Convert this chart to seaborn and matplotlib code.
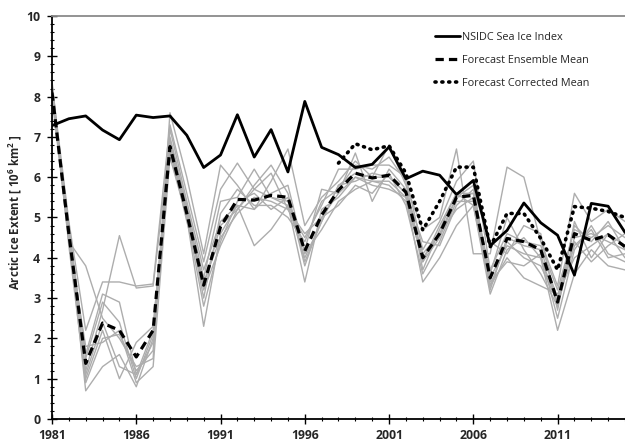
import numpy as np
import pandas as pd
import matplotlib
matplotlib.use("Agg")
import matplotlib.pyplot as plt
from matplotlib.ticker import MultipleLocator, FixedLocator
import seaborn as sns

years = list(range(1981, 2016))

# NSIDC September sea ice extent (10^6 km^2)
nsidc = [7.28, 7.45, 7.52, 7.17, 6.93, 7.54, 7.48, 7.52, 7.04, 6.24,
         6.55, 7.55, 6.50, 7.18, 6.13, 7.88, 6.74, 6.56, 6.24, 6.32,
         6.75, 5.96, 6.15, 6.05, 5.57, 5.92, 4.30, 4.68, 5.36, 4.87,
         4.56, 3.57, 5.35, 5.28, 4.63]

# Forecast ensemble mean
ens_mean = [8.10, 4.60, 1.38, 2.38, 2.20, 1.54, 2.20, 6.76, 5.10, 3.32,
            4.77, 5.45, 5.43, 5.55, 5.50, 4.17, 5.06, 5.68, 6.10, 5.98,
            6.05, 5.63, 4.00, 4.60, 5.50, 5.55, 3.50, 4.48, 4.40, 4.20,
            2.90, 4.60, 4.43, 4.57, 4.28]

# Bias-corrected forecast mean (available from 1998)
corr_years = list(range(1998, 2016))
corr_mean = [6.35, 6.83, 6.68, 6.78, 6.10, 4.69, 5.40, 6.25, 6.25, 4.27,
             5.10, 5.10, 4.48, 3.70, 5.27, 5.23, 5.15, 5.00]

# Individual ensemble members
member_1 = [8.4, 4.4, 3.8, 2.5, 2.0, 1.3, 1.5, 7.6, 6.0, 4.1, 6.3, 5.8, 5.2, 5.9, 6.7, 4.8, 5.5, 5.9,
            6.4, 6.0, 6.8, 5.8, 4.7, 5.0, 6.7, 4.1, 4.1, 6.25, 6.0, 4.4, 3.3, 5.6, 4.9, 5.2, 4.9]
member_2 = [8.3, 4.9, 2.2, 3.4, 3.4, 3.3, 3.35, 7.3, 5.6, 3.9, 5.7, 6.35, 5.7, 6.1, 5.2, 4.5, 5.3, 6.2,
            6.2, 6.3, 6.3, 6.0, 4.2, 4.9, 5.9, 6.4, 3.7, 4.6, 4.4, 4.3, 3.2, 4.7, 4.5, 4.8, 4.5]
member_3 = [8.2, 4.7, 1.6, 3.1, 2.9, 1.1, 2.2, 7.0, 5.3, 3.5, 5.4, 5.5, 6.2, 5.5, 5.4, 4.2, 5.7, 5.6,
            6.6, 5.4, 6.2, 5.7, 3.9, 4.5, 5.5, 5.8, 3.3, 4.4, 4.0, 3.8, 2.9, 4.3, 4.7, 4.0, 4.1]
member_4 = [8.1, 4.5, 1.2, 2.7, 4.55, 3.25, 3.3, 6.9, 5.1, 3.2, 4.3, 5.2, 5.8, 6.3, 5.6, 3.9, 4.9, 5.8,
            5.9, 6.1, 6.0, 5.6, 4.4, 4.3, 5.3, 5.7, 4.4, 4.1, 4.8, 4.6, 2.7, 4.9, 4.0, 4.6, 4.3]
member_5 = [8.0, 4.6, 0.7, 1.3, 1.6, 0.8, 2.0, 6.8, 5.0, 2.3, 4.6, 5.3, 4.3, 4.7, 5.3, 3.4, 5.2, 5.5,
            6.0, 5.9, 5.9, 5.5, 3.4, 4.0, 4.8, 5.3, 3.1, 4.2, 4.5, 4.0, 2.2, 3.6, 4.2, 3.8, 3.7]
member_6 = [8.2, 4.5, 1.0, 2.2, 1.0, 1.9, 2.3, 6.6, 5.2, 3.0, 5.1, 5.7, 5.3, 5.3, 5.0, 4.4, 5.4, 5.7,
            6.3, 6.2, 6.5, 5.9, 3.7, 4.7, 5.6, 5.6, 3.6, 5.0, 4.2, 3.6, 2.8, 4.4, 3.9, 4.3, 4.6]
member_7 = [8.3, 4.3, 0.9, 2.0, 2.1, 1.2, 1.7, 7.2, 5.4, 3.7, 4.9, 5.3, 5.2, 5.6, 5.8, 4.1, 4.7, 5.4,
            5.7, 5.9, 5.8, 5.4, 4.0, 4.6, 5.2, 5.5, 3.4, 3.9, 3.8, 4.1, 2.5, 4.2, 4.8, 4.1, 3.9]
member_8 = [8.1, 4.8, 1.5, 2.9, 2.4, 1.0, 2.1, 6.7, 4.9, 3.4, 4.5, 5.1, 5.5, 5.4, 5.2, 4.6, 5.0, 5.3,
            5.8, 5.6, 6.1, 5.3, 3.6, 4.4, 5.4, 5.4, 3.2, 4.5, 4.3, 4.2, 3.0, 4.8, 4.4, 4.9, 4.2]
member_9 = [8.0, 4.4, 1.8, 1.9, 2.2, 0.9, 1.3, 6.5, 5.0, 2.8, 4.4, 5.4, 5.6, 5.2, 5.5, 3.8, 5.0, 5.6,
            6.0, 5.8, 5.7, 5.5, 3.9, 4.8, 5.6, 5.3, 3.3, 4.0, 3.5, 3.3, 3.1, 4.0, 4.3, 4.6, 4.0]
member_10 = [8.2, 4.7, 1.1, 2.4, 1.3, 1.1, 1.9, 6.9, 5.2, 3.3, 4.8, 5.2, 5.7, 5.5, 5.3, 4.0, 4.9, 5.8,
             6.1, 6.0, 6.0, 5.6, 4.1, 4.6, 5.5, 5.6, 3.5, 4.3, 4.1, 4.0, 2.9, 4.5, 4.6, 4.4, 4.2]
members = [member_1, member_2, member_3, member_4, member_5,
           member_6, member_7, member_8, member_9, member_10]

x_ticks = [1981, 1986, 1991, 1996, 2001, 2006, 2011]
y_ticks = list(range(0, 11))

members_df = pd.DataFrame(
    [(i, y, v) for i, m in enumerate(members) for y, v in zip(years, m)],
    columns=["member", "year", "extent"])
obs_df = pd.DataFrame({"year": years, "extent": nsidc})
mean_df = pd.DataFrame({"year": years, "extent": ens_mean})
corr_df = pd.DataFrame({"year": corr_years, "extent": corr_mean})

sns.set_style("white")
plt.rcParams["font.family"] = ["Open Sans", "DejaVu Sans"]
plt.rcParams["mathtext.fontset"] = "custom"
plt.rcParams["mathtext.rm"] = "Open Sans"
plt.rcParams["mathtext.bf"] = "Open Sans:bold"

fig = plt.figure(figsize=(6.25, 4.44), dpi=100)
ax = fig.add_axes([0.0832, 0.0563, 0.9168, 0.9077])

sns.lineplot(data=members_df, x="year", y="extent", units="member",
             estimator=None, color="#adadad", linewidth=1.0, ax=ax,
             legend=False, zorder=2)
sns.lineplot(data=obs_df, x="year", y="extent", color="black",
             linewidth=2.0, ax=ax, label="NSIDC Sea Ice Index", zorder=4)
sns.lineplot(data=mean_df, x="year", y="extent", color="black",
             linewidth=2.3, ax=ax, label="Forecast Ensemble Mean", zorder=5)
sns.lineplot(data=corr_df, x="year", y="extent", color="black",
             linewidth=2.6, ax=ax, label="Forecast Corrected Mean", zorder=5)

lines = ax.get_lines()
lines[-2].set_linestyle((0, (2.6, 1.6)))
lines[-1].set_linestyle((0, (0.3, 1.6)))
lines[-1].set_dash_capstyle("round")

ax.set_xlim(1981, 2015)
ax.set_ylim(0, 10)
ax.xaxis.set_major_locator(FixedLocator(x_ticks))
ax.xaxis.set_minor_locator(MultipleLocator(1))
ax.yaxis.set_minor_locator(MultipleLocator(0.2))
ax.set_xticks(x_ticks, [str(t) for t in x_ticks], fontweight="bold")
ax.set_yticks(y_ticks, [str(t) for t in y_ticks], fontweight="bold")
ax.tick_params(axis="both", which="major", direction="inout", length=7,
               width=1.0, labelsize=8.8, color="black")
ax.tick_params(axis="y", which="major", pad=5)
ax.tick_params(axis="x", which="major", pad=4)
ax.tick_params(axis="both", which="minor", direction="inout", length=3.5,
               width=0.8, color="black")
ax.tick_params(left=True, bottom=True, which="both")

ax.set_xlabel("")
ax.set_ylabel(r"Arctic Ice Extent [ 10$^{\mathbf{6}}$ km$^{\mathbf{2}}$ ]",
              fontsize=8.3, fontweight="bold")
ax.yaxis.set_label_coords(-0.049, 0.514)

for side in ("left", "bottom"):
    ax.spines[side].set_color("black")
    ax.spines[side].set_linewidth(1.3)
ax.spines["top"].set_color("#8a8a8a")
ax.spines["top"].set_linewidth(1.3)
ax.spines["right"].set_visible(False)

ax.legend(loc="upper left", bbox_to_anchor=(0.668, 0.96), frameon=False,
          fontsize=7.8, handlelength=2.3, handletextpad=0.2,
          labelspacing=1.08, borderpad=0, borderaxespad=0)

fig.savefig("out.png", dpi=100)
